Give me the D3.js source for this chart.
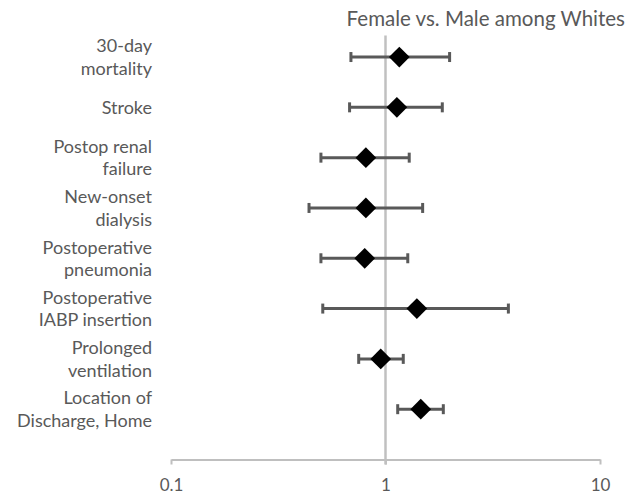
<!DOCTYPE html>
<html>
<head>
<meta charset="utf-8">
<script src="https://cdn.jsdelivr.net/npm/d3@7"></script>
<style>
  body { margin: 0; background: #fff; }
  text { font-family: Lato, "Open Sans", sans-serif; fill: #595959; }
</style>
</head>
<body>
<script>
// data (odds ratio with 95% CI)
var categories = ["30-day\nmortality", "Stroke", "Postop renal\nfailure", "New-onset\ndialysis",
                  "Postoperative\npneumonia", "Postoperative\nIABP insertion", "Prolonged\nventilation",
                  "Location of\nDischarge, Home"];
var oddsRatio = [1.16, 1.13, 0.81, 0.81, 0.80, 1.40, 0.95, 1.46];
var ciLow     = [0.69, 0.68, 0.50, 0.44, 0.50, 0.51, 0.75, 1.14];
var ciHigh    = [1.99, 1.84, 1.29, 1.49, 1.27, 3.74, 1.21, 1.86];
var xTicks    = [0.1, 1, 10];
var title     = "Female vs. Male among Whites";

var w = 632, h = 497;

var svg = d3.select("body").append("svg")
    .attr("width", w)
    .attr("height", h);

// scales
var xscale = d3.scaleLog()
    .domain([0.1, 10])
    .range([171, 600]);

// rows sit at 8..1 from top to bottom
var yscale = d3.scaleLinear()
    .domain([0, 8.43])
    .range([459.5, 35.4]);

var rowPos = function(i) { return yscale(categories.length - i); };

// x axis
var xaxis = d3.axisBottom(xscale)
    .tickValues(xTicks)
    .tickFormat(function(d) { return d3.format("~g")(d); })
    .tickSize(5)
    .tickSizeOuter(0)
    .tickPadding(14);

var gx = svg.append("g")
    .attr("transform", "translate(0," + yscale(0) + ")")
    .call(xaxis);
gx.select(".domain").attr("stroke", "#bfbfbf").attr("stroke-width", 2);
gx.selectAll(".tick line").attr("stroke", "#bfbfbf").attr("stroke-width", 2);
gx.selectAll(".tick text")
    .attr("font-family", "Lato, sans-serif")
    .attr("font-size", "17px")
    .attr("fill", "#595959");

// vertical reference line at 1
svg.append("line")
    .attr("x1", xscale(1)).attr("x2", xscale(1))
    .attr("y1", yscale(8.43)).attr("y2", yscale(0) + 5)
    .attr("stroke", "#c0c0c0")
    .attr("stroke-width", 2.5);

// error bars
var rows = svg.selectAll(".row")
    .data(oddsRatio).enter().append("g")
    .attr("class", "row");

rows.append("line")
    .attr("x1", function(d, i) { return xscale(ciLow[i]); })
    .attr("x2", function(d, i) { return xscale(ciHigh[i]); })
    .attr("y1", function(d, i) { return rowPos(i); })
    .attr("y2", function(d, i) { return rowPos(i); })
    .attr("stroke", "#595959").attr("stroke-width", 3);

[ciLow, ciHigh].forEach(function(arr) {
    rows.append("line")
        .attr("x1", function(d, i) { return xscale(arr[i]); })
        .attr("x2", function(d, i) { return xscale(arr[i]); })
        .attr("y1", function(d, i) { return rowPos(i) - 5; })
        .attr("y2", function(d, i) { return rowPos(i) + 5; })
        .attr("stroke", "#595959").attr("stroke-width", 3);
});

// diamonds
rows.append("path")
    .attr("d", d3.symbol().type(d3.symbolSquare).size(215))
    .attr("transform", function(d, i) {
        return "translate(" + xscale(d) + "," + rowPos(i) + ") rotate(45)";
    })
    .attr("fill", "#000");

// category labels
var labels = svg.selectAll(".cat")
    .data(categories).enter().append("text")
    .attr("class", "cat")
    .attr("text-anchor", "end")
    .attr("font-size", "18px")
    .attr("x", 152)
    .attr("y", function(d, i) { return rowPos(i); });

labels.each(function(d) {
    var lines = d.split("\n");
    var el = d3.select(this);
    lines.forEach(function(line, k) {
        var off = (k - (lines.length - 1) / 2) * 22.5 + 6.5;
        el.append("tspan")
            .attr("x", 152)
            .attr("y", +el.attr("y") + off)
            .text(line);
    });
});

// title
svg.append("text")
    .text(title)
    .attr("x", 625)
    .attr("y", 26)
    .attr("text-anchor", "end")
    .attr("font-size", "20.5px");
</script>
</body>
</html>
